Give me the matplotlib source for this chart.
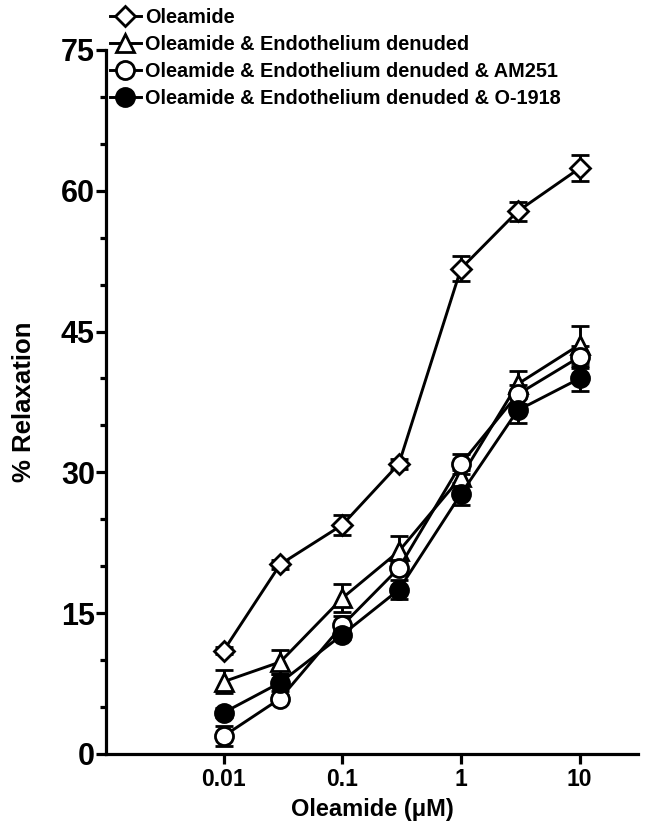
import numpy as np
import matplotlib
matplotlib.use("Agg")
import matplotlib.pyplot as plt
from matplotlib.ticker import FixedLocator, MultipleLocator, NullLocator

plt.rcParams['font.family'] = ['Liberation Sans', 'DejaVu Sans']
plt.rcParams['font.weight'] = 'bold'

conc = [0.01, 0.03, 0.1, 0.3, 1, 3, 10]

oleamide = [11.0, 20.2, 24.4, 30.9, 51.7, 57.8, 62.4]
oleamide_err = [0.4, 0.5, 1.1, 0.5, 1.3, 1.0, 1.4]

denuded = [7.7, 9.8, 16.6, 21.6, 29.5, 39.4, 43.6]
denuded_err = [1.2, 1.3, 1.5, 1.6, 0.8, 1.4, 2.0]

am251 = [1.9, 5.9, 13.7, 19.8, 30.9, 38.3, 42.3]
am251_err = [1.1, 0.4, 1.0, 0.6, 1.1, 1.0, 1.2]

o1918 = [4.4, 7.6, 12.7, 17.5, 27.7, 36.6, 40.0]
o1918_err = [0.5, 0.9, 0.5, 1.0, 1.2, 1.3, 1.3]

labels = ['Oleamide',
          'Oleamide & Endothelium denuded',
          'Oleamide & Endothelium denuded & AM251',
          'Oleamide & Endothelium denuded & O-1918']

series = [
    (oleamide, oleamide_err, 'D', 'white', 10.5),
    (denuded, denuded_err, '^', 'white', 13),
    (am251, am251_err, 'o', 'white', 13),
    (o1918, o1918_err, 'o', 'black', 13),
]

fig = plt.figure(figsize=(6.46, 8.31), dpi=100)
ax = fig.add_axes([0.164, 0.0927, 0.8235, 0.8472])

for (vals, err, mk, fc, ms), lab in zip(series, labels):
    ax.errorbar(conc, vals, yerr=err, color='black', marker=mk, markersize=ms,
                markerfacecolor=fc, markeredgecolor='black', markeredgewidth=2,
                linewidth=2.1, elinewidth=2.1, capsize=6.5, capthick=2.1,
                label=lab)

ax.set_xscale('log')
ax.set_xlim(0.00102, 31)
ax.set_ylim(0, 75)
ax.xaxis.set_major_locator(FixedLocator([0.01, 0.1, 1, 10]))
ax.xaxis.set_minor_locator(NullLocator())
ax.set_xticklabels(['0.01', '0.1', '1', '10'])
ax.yaxis.set_major_locator(MultipleLocator(15))
ax.yaxis.set_minor_locator(MultipleLocator(5))

for s in ['top', 'right']:
    ax.spines[s].set_visible(False)
for s in ['left', 'bottom']:
    ax.spines[s].set_linewidth(2.3)

ax.tick_params(axis='both', which='major', direction='out', length=7, width=2.3)
ax.tick_params(axis='y', which='minor', direction='out', length=4.5, width=2.3)
ax.tick_params(axis='y', which='major', labelsize=22, pad=1)
ax.tick_params(axis='x', which='major', labelsize=16.5, pad=3)
for t in ax.get_xticklabels() + ax.get_yticklabels():
    t.set_fontweight('bold')

ax.set_xlabel('Oleamide (\u03bcM)', fontsize=17, fontweight='bold', labelpad=5)
ax.set_ylabel('% Relaxation', fontsize=18.5, fontweight='bold', labelpad=18)

handles, labs = ax.get_legend_handles_labels()
handles = [h[0] for h in handles]
fig.legend(handles, labs, loc='upper left', bbox_to_anchor=(0.142, 1.012),
           frameon=False, handlelength=1.6, handletextpad=0.2,
           labelspacing=0.4, prop={'weight': 'bold', 'size': 14.3})

fig.savefig('out.png', dpi=100)
